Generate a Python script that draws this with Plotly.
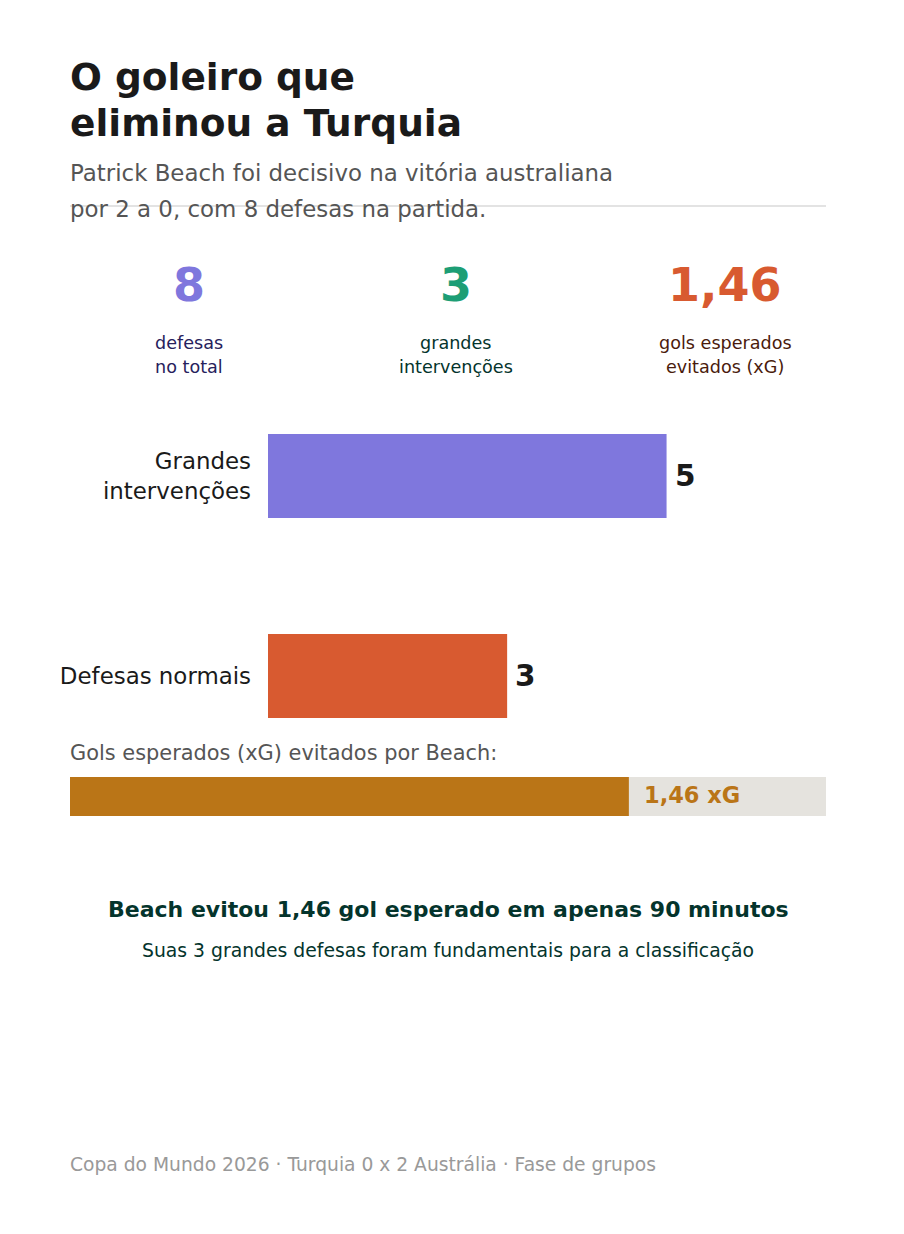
import plotly.graph_objects as go

# ---------------- data ----------------
CATEGORIES = ["Grandes intervenções", "Defesas normais"]
CATEGORY_LABELS = ["Grandes<br>intervenções", "Defesas normais"]
VALUES = [5, 3]
BAR_COLORS = ["#7f77dd", "#d85a30"]

KPI_VALUES = ["8", "3", "1,46"]
KPI_LABELS = [["defesas", "no total"], ["grandes", "intervenções"], ["gols esperados", "evitados (xG)"]]
KPI_COLORS = ["#7f77dd", "#1d9e75", "#d85a30"]
KPI_LABEL_COLORS = ["#26215c", "#04342c", "#4a1b0c"]

XG_VALUE = 1.46
XG_LABEL = "1,46 xG"

TITLE_LINES = ["O goleiro que", "eliminou a Turquia"]
SUBTITLE_LINES = ["Patrick Beach foi decisivo na vitória australiana",
                  "por 2 a 0, com 8 defesas na partida."]
XG_CAPTION = "Gols esperados (xG) evitados por Beach:"
NOTE_BOLD = "Beach evitou 1,46 gol esperado em apenas 90 minutos"
NOTE_SUB = "Suas 3 grandes defesas foram fundamentais para a classificação"
FOOTER = "Copa do Mundo 2026 · Turquia 0 x 2 Austrália · Fase de grupos"

# ---------------- layout helpers ----------------
OFF = 8  # page body margin
W, H = 904 - OFF, 1234 - OFF
FONT = "DejaVu Sans"


def px(x):
    return (x - OFF) / W


def py(y):
    return 1 - (y - OFF) / H


fig = go.Figure()

# main bar chart
fig.add_trace(go.Bar(
    x=VALUES, y=CATEGORIES, orientation="h",
    marker=dict(color=BAR_COLORS, line=dict(width=0)),
    xaxis="x", yaxis="y", hoverinfo="skip", showlegend=False,
))

# xG progress bar
fig.add_trace(go.Bar(
    x=[XG_VALUE], y=["xG"], orientation="h", width=1,
    marker=dict(color="#ba7517", line=dict(width=0)),
    xaxis="x2", yaxis="y2", hoverinfo="skip", showlegend=False,
))

annotations = []


def txt(text, x, y, size, color, bold=False, xanchor="left", **kw):
    annotations.append(dict(
        text=f"<b>{text}</b>" if bold else text,
        x=x, y=y, xref=kw.pop("xref", "paper"), yref=kw.pop("yref", "paper"),
        xanchor=xanchor, yanchor="middle", showarrow=False,
        font=dict(family=FONT, size=size, color=color), **kw))


# title & subtitle
txt(TITLE_LINES[0], px(68), py(77), 37.5, "#1a1a1a", bold=True)
txt(TITLE_LINES[1], px(68), py(123), 37.5, "#1a1a1a", bold=True)
txt(SUBTITLE_LINES[0], px(68), py(173), 22.9, "#555555")
txt(SUBTITLE_LINES[1], px(68), py(209), 22.9, "#555555")

# KPIs
kpi_x = [189, 456, 725]
for cx, val, lab, c, lc in zip(kpi_x, KPI_VALUES, KPI_LABELS, KPI_COLORS, KPI_LABEL_COLORS):
    txt(val, px(cx), py(285), 46, c, bold=True, xanchor="center")
    txt(lab[0], px(cx), py(343), 17.6, lc, xanchor="center")
    txt(lab[1], px(cx), py(367), 17.6, lc, xanchor="center")

# bar value labels
for cat, v in zip(CATEGORIES, VALUES):
    txt(str(v), v, cat, 29.5, "#1a1a1a", bold=True, xref="x", yref="y", xshift=6)

# xG caption & value
txt(XG_CAPTION, px(68), py(753), 20.9, "#555555")
txt(XG_LABEL, XG_VALUE, "xG", 22.5, "#ba7517", bold=True, xref="x2", yref="y2", xshift=13, yshift=2)

# notes and footer
txt(NOTE_BOLD, px(448), py(909), 22, "#04342c", bold=True, xanchor="center")
txt(NOTE_SUB, px(448), py(950), 18.8, "#04342c", xanchor="center")
txt(FOOTER, px(68), py(1164), 18.7, "#999999")

shapes = [
    dict(type="line", xref="paper", yref="paper", x0=px(70), x1=px(826), y0=py(206), y1=py(206),
         line=dict(color="#e3e3e3", width=2), layer="below"),
    dict(type="rect", xref="x2 domain", yref="y2 domain", x0=0, x1=1, y0=0, y1=1,
         fillcolor="#e5e3de", line=dict(width=0), layer="below"),
]

fig.update_layout(
    width=W, height=H,
    margin=dict(l=0, r=0, t=0, b=0),
    paper_bgcolor="white", plot_bgcolor="rgba(0,0,0,0)",
    font=dict(family=FONT),
    bargap=0.58,
    xaxis=dict(domain=[px(268), px(826)], range=[0, 7], visible=False, fixedrange=True),
    yaxis=dict(domain=[py(776), py(376)], type="category", autorange="reversed",
               tickmode="array", tickvals=CATEGORIES, ticktext=CATEGORY_LABELS,
               showgrid=False, zeroline=False, showline=False, ticks="",
               ticklabelstandoff=16,
               tickfont=dict(family=FONT, size=22.9, color="#1a1a1a"), fixedrange=True),
    xaxis2=dict(domain=[px(70), px(826)], range=[0, 1.975], visible=False, fixedrange=True),
    yaxis2=dict(domain=[py(816), py(777)], range=[-0.5, 0.5], visible=False, fixedrange=True),
    annotations=annotations,
    shapes=shapes,
)

fig.write_html("out.html", config={"displayModeBar": False})
